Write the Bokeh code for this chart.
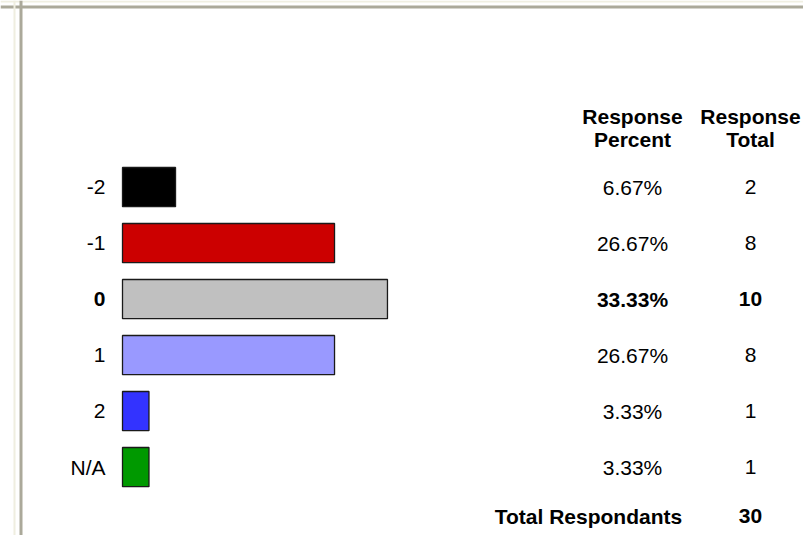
from bokeh.plotting import figure
from bokeh.models import ColumnDataSource, Range1d, Span
from bokeh.core.properties import value
from bokeh.embed import file_html
from bokeh.resources import INLINE

# ---- data ----
categories = ["-2", "-1", "0", "1", "2", "N/A"]
percents = [6.67, 26.67, 33.33, 26.67, 3.33, 3.33]
totals = [2, 8, 10, 8, 1, 1]
total_respondants = 30
header_percent = ["Response", "Percent"]
header_total = ["Response", "Total"]
footer_label = "Total Respondants"

# ---- styles ----
bar_colors = ["#000000", "#CC0000", "#C0C0C0", "#9999FF", "#3333FF", "#009900"]
font_styles = ["bold" if c == "0" else "normal" for c in categories]
FONT = value("Liberation Sans")
FS = value("21px")

W, H = 803, 535
px_per_unit_x = 7.95
x0_px = 122.0
row_px = 56.0
row0_px = 186.6

x_start = -x0_px / px_per_unit_x
x_end = (W - x0_px) / px_per_unit_x
y_top = -row0_px / row_px
y_bottom = (H - row0_px) / row_px

def dx(px):
    return (px - x0_px) / px_per_unit_x

def dy(px):
    return (px - row0_px) / row_px

rows = list(range(len(categories)))
src = ColumnDataSource(dict(
    y=rows,
    cat=categories,
    pct=percents,
    pct_text=[f"{v:.2f}%" for v in percents],
    tot_text=[str(t) for t in totals],
    color=bar_colors,
    style=font_styles,
))

p = figure(width=W, height=H, output_backend="svg", toolbar_location=None,
           x_range=Range1d(x_start, x_end), y_range=Range1d(y_bottom, y_top),
           x_axis_type=None, y_axis_type=None, min_border=0,
           outline_line_color=None, background_fill_color="white",
           border_fill_color="white")
p.xgrid.visible = False
p.ygrid.visible = False

# window chrome lines
p.add_layout(Span(location=dy(1), dimension="width", line_color="#F0EFE2", line_width=2))
p.add_layout(Span(location=dy(6.5), dimension="width", line_color="#ABA99A", line_width=3))
p.add_layout(Span(location=dx(14), dimension="height", line_color="#EFEEE0", line_width=2))
p.add_layout(Span(location=dx(20.5), dimension="height", line_color="#ABA99A", line_width=3))

# bars
p.hbar(y="y", left=0, right="pct", height=0.7, fill_color="color",
       line_color="#1a1a1a", line_width=1.3, source=src)

# category labels
p.text(x=dx(105), y="y", text="cat", text_align="right", text_baseline="middle",
       text_font=FONT, text_font_size=FS, text_font_style="style",
       text_color="black", source=src)

# percent column
p.text(x=dx(632), y="y", text="pct_text", text_align="center", text_baseline="middle",
       text_font=FONT, text_font_size=FS, text_font_style="style",
       text_color="black", source=src)

# totals column
p.text(x=dx(750), y="y", text="tot_text", text_align="center", text_baseline="middle",
       text_font=FONT, text_font_size=FS, text_font_style="style",
       text_color="black", source=src)

# headers
hdr_y = [dy(116), dy(139)]
p.text(x=[dx(632)] * 2, y=hdr_y, text=header_percent, text_align="center",
       text_baseline="middle", text_font=FONT, text_font_size=FS,
       text_font_style="bold", text_color="black")
p.text(x=[dx(750)] * 2, y=hdr_y, text=header_total, text_align="center",
       text_baseline="middle", text_font=FONT, text_font_size=FS,
       text_font_style="bold", text_color="black")

# footer
foot_y = dy(515.7)
p.text(x=[dx(681.7)], y=[foot_y], text=[footer_label], text_align="right",
       text_baseline="middle", text_font=FONT, text_font_size=FS,
       text_font_style="bold", text_color="black")
p.text(x=[dx(750)], y=[foot_y], text=[str(total_respondants)], text_align="center",
       text_baseline="middle", text_font=FONT, text_font_size=FS,
       text_font_style="bold", text_color="black")

open("out.html", "w").write(file_html(p, INLINE))
